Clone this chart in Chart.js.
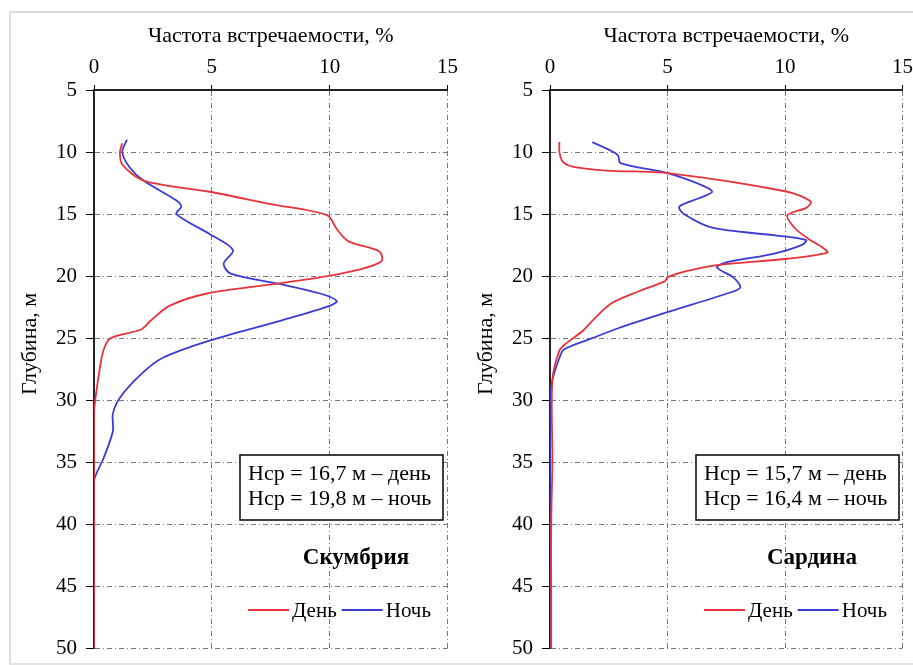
<!DOCTYPE html>
<html>
<head>
<meta charset="utf-8">
<script src="https://cdn.jsdelivr.net/npm/chart.js@4"></script>
<style>
  body { margin: 0; background: #fff; }
  #wrap { position: relative; width: 913px; height: 665px; overflow: hidden; }
  #frame { position: absolute; left: 9px; top: 11px; width: 920px; height: 650px;
           border-left: 2px solid #ddd; border-top: 2px solid #ddd; border-bottom: 2px solid #e4e4e4; }
  .panel { position: absolute; top: 0; }
</style>
</head>
<body>
<div id="wrap">
  <div id="frame"></div>
  <div class="panel" style="left:0"><canvas id="chart-mackerel" width="463" height="670"></canvas></div>
  <div class="panel" style="left:456px"><canvas id="chart-sardine" width="462" height="670"></canvas></div>
</div>
<script>
// Скумбрия: глубина (м) и частота встречаемости (%)
var mackerelDayDepth = [9.3, 10, 11, 12.3, 13.2, 14.2, 15.1, 16.2, 17.2, 18.0, 18.8, 19.5, 20.0, 20.6, 21.4, 22.4, 23.6, 24.3, 25.0, 26, 28, 31, 35, 40, 45, 50];
var mackerelDayFreq  = [1.2, 1.1, 1.2, 2.1, 4.9, 7.5, 9.9, 10.3, 10.8, 12.1, 12.2, 11.2, 9.9, 7.8, 4.8, 3.2, 2.4, 2.0, 0.7, 0.4, 0.2, 0.0, 0, 0, 0, 0];
var mackerelNightDepth = [9.0, 10, 11.2, 12.3, 13.9, 14.4, 15.0, 16.6, 17.9, 19.0, 19.8, 20.6, 21.4, 22.0, 22.4, 23.6, 25.2, 26.6, 27.9, 29.8, 31.1, 32.5, 34.7, 36.5, 40, 45, 50];
var mackerelNightFreq  = [1.4, 1.2, 1.5, 2.1, 3.5, 3.7, 3.5, 4.9, 5.9, 5.5, 5.8, 7.8, 9.6, 10.3, 10.0, 7.9, 4.9, 2.9, 2.0, 1.1, 0.8, 0.8, 0.4, 0, 0, 0, 0];

// Сардина
var sardineDayDepth = [9.2, 10, 10.8, 11.2, 11.5, 11.7, 13.2, 14.0, 14.5, 15.1, 16.1, 17.0, 17.7, 18.1, 18.6, 19.1, 19.6, 20.1, 20.4, 21.2, 22.2, 23.6, 24.4, 25.4, 26.0, 28.4, 35, 40, 45, 50];
var sardineDayFreq  = [0.4, 0.4, 0.55, 1.0, 2.4, 5.0, 10.1, 11.1, 10.9, 10.1, 10.4, 11.0, 11.6, 11.8, 10.1, 7.2, 5.8, 5.0, 4.9, 3.8, 2.6, 1.8, 1.4, 0.7, 0.4, 0.1, 0.1, 0.05, 0.05, 0.05];
var sardineNightDepth = [9.2, 10, 10.3, 10.9, 11.7, 12.7, 13.2, 13.6, 14.4, 15.0, 16.1, 16.7, 17.1, 17.5, 18.2, 18.9, 19.3, 20.1, 20.9, 21.3, 22.9, 24.2, 25.0, 25.9, 26.6, 28.4, 30, 35, 40, 45, 50];
var sardineNightFreq  = [1.8, 2.7, 2.9, 3.0, 5.0, 6.5, 6.9, 6.5, 5.5, 5.7, 6.9, 9.5, 10.9, 10.7, 9.5, 7.5, 7.1, 7.8, 8.1, 7.7, 5.0, 2.9, 1.8, 0.6, 0.4, 0.1, 0, 0, 0, 0, 0];

var depthTicks = [5, 10, 15, 20, 25, 30, 35, 40, 45, 50];
var freqTicks = [0, 5, 10, 15];
var seriesNames = ['День', 'Ночь'];

var red = 'rgba(232,50,60,1)';
var blue = 'rgba(59,59,214,1)';
var serif = "'Liberation Serif', 'DejaVu Serif', serif";

Chart.defaults.font.family = serif;
Chart.defaults.color = '#000';

function toPoints(depth, freq) {
	var pts = [];
	for (var i = 0; i < depth.length; i++) pts.push({x: freq[i], y: depth[i]});
	return pts;
}

// подписи, рамка со средними глубинами, легенда
function notesPlugin(lines, name) {
	return {
		id: 'notes',
		afterDraw: function(chart) {
			var ctx = chart.ctx;
			ctx.save();
			ctx.fillStyle = '#000';
			ctx.font = '22px ' + serif;

			// подпись оси глубин
			ctx.save();
			ctx.translate(30, 344);
			ctx.rotate(-Math.PI / 2);
			ctx.textAlign = 'center';
			ctx.textBaseline = 'middle';
			ctx.fillText('Глубина, м', 0, 0);
			ctx.restore();

			// рамка
			ctx.fillStyle = '#fff';
			ctx.fillRect(240, 455, 203, 65);
			ctx.lineWidth = 1.5;
			ctx.strokeStyle = '#000';
			ctx.strokeRect(240, 455, 203, 65);
			ctx.fillStyle = '#000';
			ctx.textBaseline = 'middle';
			ctx.textAlign = 'left';
			ctx.fillText(lines[0], 248, 474);
			ctx.fillText(lines[1], 248, 499);

			ctx.font = 'bold 23px ' + serif;
			ctx.textAlign = 'center';
			ctx.fillText(name, 356, 558);

			// легенда
			var ds = chart.data.datasets;
			var x = 248;
			ctx.font = '21px ' + serif;
			ctx.textAlign = 'left';
			for (var i = 0; i < ds.length; i++) {
				ctx.strokeStyle = ds[i].borderColor;
				ctx.lineWidth = 2;
				ctx.beginPath();
				ctx.moveTo(x, 610);
				ctx.lineTo(x + 41, 610);
				ctx.stroke();
				ctx.fillText(ds[i].label, x + 44, 611);
				x += 44 + ctx.measureText(ds[i].label).width + 5;
			}
			ctx.restore();
		}
	};
}

function makeChart(id, day, night, lines, name) {
	return new Chart(document.getElementById(id), {
		type: 'scatter',
		data: {
			datasets: [{
				label: seriesNames[0],
				data: day,
				showLine: true,
				borderColor: red,
				borderWidth: 1.8,
				pointRadius: 0,
				tension: 0.3
			}, {
				label: seriesNames[1],
				data: night,
				showLine: true,
				borderColor: blue,
				borderWidth: 1.8,
				pointRadius: 0,
				tension: 0.3
			}]
		},
		options: {
			responsive: false,
			animation: false,
			layout: { padding: { left: 0, top: 0, right: 13, bottom: 18 } },
			plugins: { legend: { display: false }, tooltip: { enabled: false } },
			scales: {
				x: {
					type: 'linear',
					position: 'top',
					min: 0, max: 15,
					afterBuildTicks: function(scale) {
						scale.ticks = freqTicks.map(function(v) { return {value: v}; });
					},
					afterFit: function(scale) { scale.height = 90; },
					ticks: { font: { size: 21 }, padding: 5, maxRotation: 0 },
					title: { display: true, text: 'Частота встречаемости, %', font: { size: 22 }, padding: { top: 23, bottom: 0 } },
					grid: { color: '#777', lineWidth: 1, tickColor: '#000', tickLength: 5 },
					border: { color: '#222', width: 2, dash: [5, 3, 1, 3] }
				},
				y: {
					type: 'linear',
					reverse: true,
					min: 5, max: 50,
					afterBuildTicks: function(scale) {
						scale.ticks = depthTicks.map(function(v) { return {value: v}; });
					},
					afterFit: function(scale) { scale.width = 94; },
					ticks: { font: { size: 21 }, padding: 9 },
					grid: { color: '#777', lineWidth: 1, tickColor: '#000', tickLength: 8 },
					border: { color: '#222', width: 2, dash: [5, 3, 1, 3] }
				}
			}
		},
		plugins: [notesPlugin(lines, name)]
	});
}

makeChart('chart-mackerel',
	toPoints(mackerelDayDepth, mackerelDayFreq),
	toPoints(mackerelNightDepth, mackerelNightFreq),
	['Нср = 16,7 м – день', 'Нср = 19,8 м – ночь'], 'Скумбрия');

makeChart('chart-sardine',
	toPoints(sardineDayDepth, sardineDayFreq),
	toPoints(sardineNightDepth, sardineNightFreq),
	['Нср = 15,7 м – день', 'Нср = 16,4 м – ночь'], 'Сардина');
</script>
</body>
</html>
